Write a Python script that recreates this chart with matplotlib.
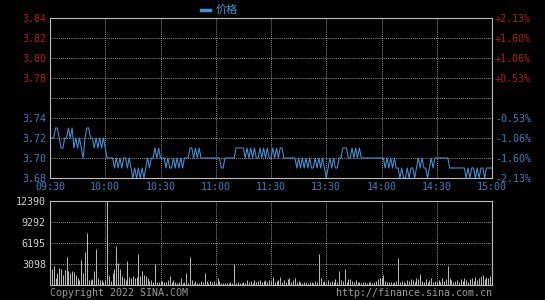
import matplotlib
matplotlib.use('Agg')
import matplotlib.pyplot as plt
from matplotlib.lines import Line2D

# minute-by-minute price, 09:30 .. 11:30 then 13:01 .. 15:00
price = [
    3.72, 3.72, 3.72, 3.73, 3.73, 3.72, 3.71, 3.71, 3.72, 3.72,
    3.73, 3.72, 3.73, 3.71, 3.72, 3.71, 3.72, 3.71, 3.70, 3.72,
    3.73, 3.73, 3.72, 3.72, 3.71, 3.72, 3.71, 3.72, 3.71, 3.72,
    3.71, 3.70, 3.70, 3.70, 3.70, 3.69, 3.70, 3.69, 3.70, 3.69,
    3.70, 3.70, 3.69, 3.70, 3.69, 3.68, 3.69, 3.68, 3.69, 3.68,
    3.69, 3.68, 3.69, 3.70, 3.69, 3.70, 3.70, 3.71, 3.70, 3.71,
    3.70, 3.70, 3.70, 3.69, 3.70, 3.69, 3.69, 3.70, 3.69, 3.70,
    3.69, 3.70, 3.69, 3.70, 3.70, 3.70, 3.71, 3.71, 3.70, 3.71,
    3.70, 3.71, 3.70, 3.70, 3.70, 3.70, 3.70, 3.70, 3.70, 3.70,
    3.70, 3.70, 3.70, 3.69, 3.69, 3.70, 3.70, 3.70, 3.70, 3.70,
    3.70, 3.71, 3.71, 3.71, 3.71, 3.71, 3.70, 3.71, 3.70, 3.71,
    3.70, 3.71, 3.70, 3.70, 3.71, 3.70, 3.71, 3.70, 3.71, 3.70,
    3.70,
    3.71, 3.70, 3.71, 3.70, 3.71, 3.71, 3.70, 3.70, 3.70, 3.70,
    3.70, 3.70, 3.70, 3.69, 3.70, 3.69, 3.70, 3.69, 3.70, 3.69,
    3.70, 3.69, 3.69, 3.70, 3.69, 3.70, 3.69, 3.70, 3.69, 3.68,
    3.69, 3.70, 3.69, 3.70, 3.69, 3.69, 3.70, 3.70, 3.71, 3.71,
    3.71, 3.70, 3.70, 3.71, 3.70, 3.71, 3.70, 3.71, 3.70, 3.70,
    3.70, 3.70, 3.70, 3.70, 3.70, 3.70, 3.70, 3.70, 3.70, 3.70,
    3.70, 3.69, 3.70, 3.69, 3.70, 3.69, 3.70, 3.69, 3.69, 3.68,
    3.69, 3.68, 3.68, 3.69, 3.68, 3.69, 3.69, 3.68, 3.69, 3.70,
    3.69, 3.70, 3.69, 3.69, 3.68, 3.69, 3.70, 3.69, 3.70, 3.70,
    3.70, 3.70, 3.70, 3.70, 3.70, 3.70, 3.69, 3.69, 3.69, 3.69,
    3.69, 3.69, 3.69, 3.69, 3.69, 3.68, 3.69, 3.68, 3.69, 3.69,
    3.68, 3.69, 3.68, 3.69, 3.69, 3.68, 3.69, 3.69, 3.69, 3.69,
]

volume = [
    4200, 2300, 2800, 1000, 1800, 2500, 2300, 1500, 2200, 4100,
    2000, 1800, 2000, 1900, 1500, 1000, 800, 3700, 1800, 4800,
    7600, 800, 800, 900, 2000, 5300, 1000, 800, 800, 500,
    800, 12390, 1300, 600, 1800, 2300, 5700, 3200, 2300, 1400,
    1100, 800, 3600, 1200, 1100, 1300, 1100, 1200, 4600, 1300,
    2000, 1500, 1300, 1100, 600, 800, 450, 3100, 450, 450,
    600, 600, 450, 450, 800, 1400, 450, 700, 450, 350,
    450, 1100, 350, 450, 1800, 350, 4100, 700, 350, 600,
    350, 350, 600, 450, 1800, 600, 350, 600, 450, 600,
    350, 1100, 600, 350, 350, 250, 350, 350, 450, 350,
    3100, 350, 450, 350, 250, 450, 350, 700, 450, 600,
    350, 700, 450, 600, 800, 450, 600, 800, 450, 700,
    600,
    1200, 500, 600, 800, 1200, 500, 700, 500, 900, 1100,
    500, 700, 1100, 400, 600, 400, 300, 500, 400, 300,
    500, 400, 300, 600, 400, 4600, 1000, 400, 600, 300,
    700, 400, 600, 500, 900, 400, 2100, 800, 600, 2300,
    500, 900, 900, 600, 500, 700, 400, 500, 300, 500,
    400, 300, 500, 400, 300, 500, 600, 900, 1000, 1100,
    1500, 600, 400, 500, 400, 300, 500, 600, 4000, 400,
    600, 500, 300, 700, 600, 900, 800, 500, 1000, 900,
    1600, 600, 500, 900, 400, 700, 1100, 500, 600, 400,
    700, 500, 1000, 600, 900, 2800, 1000, 700, 500, 600,
    700, 400, 900, 600, 1100, 700, 500, 900, 1000, 600,
    1200, 800, 1000, 1300, 1500, 900, 1200, 1100, 1400, 1500,
]

time_labels = ['09:30', '10:00', '10:30', '11:00', '11:30', '13:30', '14:00', '14:30', '15:00']
price_ticks = [3.68, 3.70, 3.72, 3.74, 3.76, 3.78, 3.80, 3.82, 3.84]
price_labels = ['3.68', '3.70', '3.72', '3.74', '', '3.78', '3.80', '3.82', '3.84']
pct_labels = ['-2.13%', '-1.60%', '-1.06%', '-0.53%', '', '+0.53%', '+1.06%', '+1.60%', '+2.13%']
vol_ticks = [0, 3098, 6195, 9292, 12390]
vol_labels = ['', '3098', '6195', '9292', '12390']

BLUE = '#4094d8'
LBLUE = '#3f7fbf'
RED = '#b81818'
GRID = '#c8c8c8'
mono = 'DejaVu Sans Mono'

fig = plt.figure(figsize=(5.45, 3.0), dpi=100)
fig.patch.set_facecolor('black')

W, H = 545.0, 300.0
ax = fig.add_axes([50 / W, 1 - 178 / H, 442 / W, 160 / H])
ax_vol = fig.add_axes([50 / W, 1 - 285 / H, 442 / W, 84 / H])

def style(a):
    a.set_facecolor('black')
    for s in a.spines.values():
        s.set_color('#bcbcbc')
        s.set_linewidth(0.8)
    a.tick_params(length=0, pad=3)
    a.grid(True, color=GRID, linestyle=(0, (1, 1.5)), linewidth=0.6)
    a.set_xlim(0, 240)
    a.set_xticks(range(0, 241, 30))

# price panel
style(ax)
x = list(range(len(price)))
ax.plot(x, price, color=BLUE, linewidth=0.75)
ax.set_ylim(3.68, 3.84)
ax.set_yticks(price_ticks)
ax.set_yticklabels(price_labels, fontfamily=mono, fontsize=7.2)
for lbl, val in zip(ax.get_yticklabels(), price_ticks):
    lbl.set_color(RED if val > 3.76 else LBLUE)
ax.set_xticklabels(time_labels, fontfamily=mono, fontsize=7.2, color=LBLUE)

ax_r = ax.twinx()
ax_r.set_ylim(3.68, 3.84)
ax_r.set_yticks(price_ticks)
ax_r.set_yticklabels(pct_labels, fontfamily=mono, fontsize=7.2)
for lbl, val in zip(ax_r.get_yticklabels(), price_ticks):
    lbl.set_color(RED if val > 3.76 else LBLUE)
ax_r.tick_params(length=0, pad=2)
for s in ax_r.spines.values():
    s.set_visible(False)

# volume panel
style(ax_vol)
ax_vol.vlines(range(len(volume)), 0, volume, color='#bdbdbd', linewidth=0.7)
ax_vol.set_ylim(0, 12390)
ax_vol.set_yticks(vol_ticks)
ax_vol.set_yticklabels(vol_labels, fontfamily=mono, fontsize=7.2, color='#d0d0d0')
ax_vol.set_xticklabels([])

# legend
fig.add_artist(Line2D([201 / W, 210 / W], [1 - 10 / H, 1 - 10 / H], color=BLUE, linewidth=2.5))
fig.text(216 / W, 1 - 10 / H, '价格', color=BLUE, fontsize=8,
         family=['Noto Sans CJK SC', 'DejaVu Sans'], va='center', ha='left')

fig.text(50 / W, 1 - 293 / H, 'Copyright 2022 SINA.COM', color='#9a9a9a',
         fontfamily=mono, fontsize=7.2, va='center', ha='left')
fig.text(492 / W, 1 - 293 / H, 'http://finance.sina.com.cn', color='#9a9a9a',
         fontfamily=mono, fontsize=7.2, va='center', ha='right')

plt.savefig('out.png', facecolor='black')
